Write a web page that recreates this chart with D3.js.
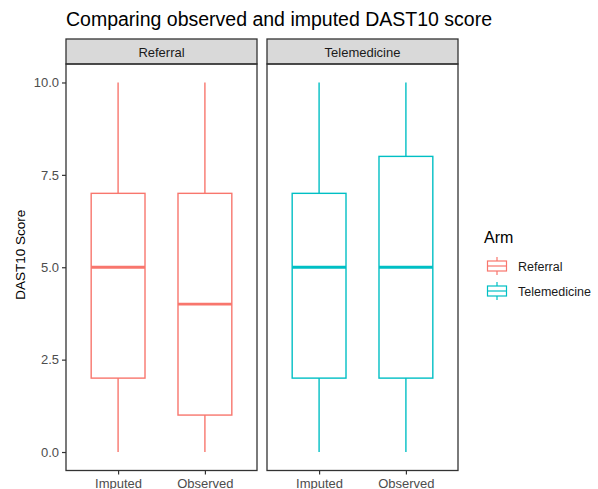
<!DOCTYPE html>
<html>
<head>
<meta charset="utf-8">
<script src="https://cdn.jsdelivr.net/npm/d3@7"></script>
<style>
  body { margin: 0; background: #fff; }
  text { font-family: "Liberation Sans", Arial, sans-serif; }
</style>
</head>
<body>
<div id="chart"></div>
<script>
// data
var arms = ["Referral", "Telemedicine"];
var groups = ["Imputed", "Observed"];
var armColors = ["#F8766D", "#00BFC4"];
var yTicks = [0, 2.5, 5, 7.5, 10];
// five-number summaries per arm: [min, q1, median, q3, max] for Imputed, Observed
var referralStats = [[0, 2, 5, 7, 10], [0, 1, 4, 7, 10]];
var telemedicineStats = [[0, 2, 5, 7, 10], [0, 2, 5, 8, 10]];

var width = 598, height = 489;
var stripTop = 39, panelTop = 64, panelBottom = 470.5;
var panels = [
    {arm: "Referral", x0: 66, x1: 257, stats: referralStats},
    {arm: "Telemedicine", x0: 267, x1: 458, stats: telemedicineStats}
];

var svg = d3.select("#chart")
    .append("svg")
    .attr("width", width)
    .attr("height", height);

var y = d3.scaleLinear()
    .domain([-0.5, 10.5])
    .range([panelBottom, panelTop]);

var color = d3.scaleOrdinal().domain(arms).range(armColors);

// title
svg.append("text")
    .attr("x", 66)
    .attr("y", 26)
    .style("font-size", "19.5px")
    .style("fill", "#000")
    .text("Comparing observed and imputed DAST10 score");

// y axis title, centred over strip + panel
svg.append("text")
    .attr("transform", "translate(25," + ((stripTop + panelBottom) / 2) + ") rotate(-90)")
    .attr("text-anchor", "middle")
    .style("font-size", "13.5px")
    .text("DAST10 Score");

// y axis (ticks on left panel only)
var yAxis = svg.append("g")
    .attr("transform", "translate(66,0)")
    .call(d3.axisLeft(y).tickValues(yTicks).tickFormat(d3.format(".1f")).tickSize(4).tickPadding(3));
yAxis.select(".domain").remove();
yAxis.selectAll("line").attr("stroke", "#333").attr("stroke-width", 1.2);
yAxis.selectAll("text").style("font-size", "13px").style("fill", "#4D4D4D").attr("font-family", null);

panels.forEach(function(p) {
    var g = svg.append("g");
    var x = d3.scalePoint()
        .domain(groups)
        .range([p.x0, p.x1])
        .padding(0.6);
    var boxW = x.step() * 0.62;
    var col = color(p.arm);

    // strip
    g.append("rect")
        .attr("x", p.x0)
        .attr("y", stripTop)
        .attr("width", p.x1 - p.x0)
        .attr("height", panelTop - stripTop)
        .attr("fill", "#D9D9D9")
        .attr("stroke", "#333")
        .attr("stroke-width", 1.3);
    g.append("text")
        .attr("x", (p.x0 + p.x1) / 2)
        .attr("y", 56.5)
        .attr("text-anchor", "middle")
        .style("font-size", "13px")
        .style("fill", "#1A1A1A")
        .text(p.arm);

    // x axis
    var xAxis = g.append("g")
        .attr("transform", "translate(0," + panelBottom + ")")
        .call(d3.axisBottom(x).tickSize(4).tickPadding(4));
    xAxis.select(".domain").remove();
    xAxis.selectAll("line").attr("stroke", "#333").attr("stroke-width", 1.2);
    xAxis.selectAll("text").style("font-size", "13px").style("fill", "#4D4D4D").attr("font-family", null);

    // boxes
    groups.forEach(function(grp, i) {
        var s = p.stats[i];
        var cx = x(grp);
        g.append("line")
            .attr("x1", cx).attr("x2", cx)
            .attr("y1", y(s[0])).attr("y2", y(s[1]))
            .attr("stroke", col).attr("stroke-width", 1.4);
        g.append("line")
            .attr("x1", cx).attr("x2", cx)
            .attr("y1", y(s[3])).attr("y2", y(s[4]))
            .attr("stroke", col).attr("stroke-width", 1.4);
        g.append("rect")
            .attr("x", cx - boxW / 2)
            .attr("y", y(s[3]))
            .attr("width", boxW)
            .attr("height", y(s[1]) - y(s[3]))
            .attr("fill", "#fff")
            .attr("stroke", col)
            .attr("stroke-width", 1.4);
        g.append("line")
            .attr("x1", cx - boxW / 2).attr("x2", cx + boxW / 2)
            .attr("y1", y(s[2])).attr("y2", y(s[2]))
            .attr("stroke", col).attr("stroke-width", 2.8);
    });

    // panel border
    g.append("rect")
        .attr("x", p.x0)
        .attr("y", panelTop)
        .attr("width", p.x1 - p.x0)
        .attr("height", panelBottom - panelTop)
        .attr("fill", "none")
        .attr("stroke", "#333")
        .attr("stroke-width", 1.3);
});

// legend
var legend = svg.append("g").attr("transform", "translate(484,0)");
legend.append("text")
    .attr("x", 0)
    .attr("y", 243)
    .style("font-size", "16px")
    .text("Arm");
arms.forEach(function(a, i) {
    var ly = 257 + i * 25;
    var col = color(a);
    var k = legend.append("g").attr("transform", "translate(2," + ly + ")");
    k.append("line").attr("x1", 11).attr("x2", 11).attr("y1", 0).attr("y2", 18)
        .attr("stroke", col).attr("stroke-width", 1.2);
    k.append("rect").attr("x", 1.5).attr("y", 4).attr("width", 19).attr("height", 10)
        .attr("fill", "#fff").attr("stroke", col).attr("stroke-width", 1.2);
    k.append("line").attr("x1", 1.5).attr("x2", 20.5).attr("y1", 9).attr("y2", 9)
        .attr("stroke", col).attr("stroke-width", 1.2);
    legend.append("text")
        .attr("x", 34)
        .attr("y", ly + 13.5)
        .style("font-size", "12.5px")
        .style("fill", "#1A1A1A")
        .text(a);
});
</script>
</body>
</html>
